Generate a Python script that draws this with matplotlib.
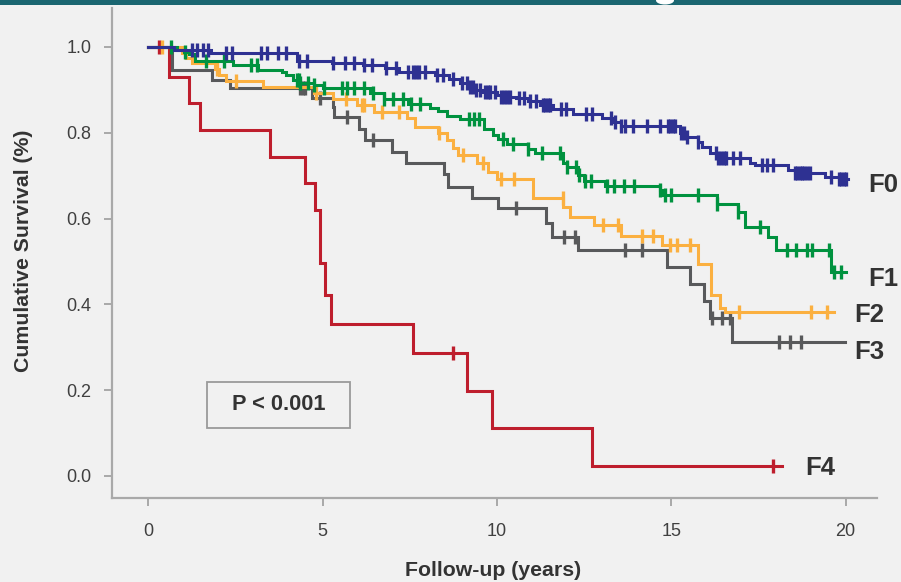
import numpy as np
import matplotlib
matplotlib.use("Agg")
import matplotlib.pyplot as plt
from matplotlib.patches import Rectangle, Ellipse

plt.rcParams['font.family'] = ['Liberation Sans', 'DejaVu Sans']

# ---------------- data ----------------
groups = ["F0", "F1", "F2", "F3", "F4"]

f0_times = [0.75, 1.80, 4.26, 5.26, 6.17, 6.79, 7.20, 8.22, 8.62, 8.94, 9.18, 9.37, 9.61, 9.99,
            10.13, 10.56, 10.90, 11.23, 11.61, 12.19, 13.00, 13.30, 13.57, 15.24, 15.40, 15.77,
            15.87, 16.10, 16.30, 17.25, 17.39, 18.35, 18.54, 19.40, 19.81]
f0_surv = [0.993, 0.985, 0.968, 0.963, 0.957, 0.950, 0.942, 0.934, 0.925, 0.915, 0.907, 0.900,
           0.896, 0.888, 0.884, 0.880, 0.873, 0.865, 0.855, 0.843, 0.834, 0.826, 0.816, 0.800,
           0.790, 0.779, 0.768, 0.752, 0.741, 0.730, 0.725, 0.713, 0.707, 0.698, 0.692]
f0_end = 20.07
f0_censor = [1.25, 1.41, 1.56, 1.72, 2.24, 2.40, 3.23, 3.40, 3.72, 3.95, 4.31, 4.55, 5.29, 5.63,
             5.90, 6.20, 6.41, 6.82, 7.11, 7.46, 7.60, 7.68, 7.75, 7.94, 8.27, 8.46, 8.75, 8.99,
             9.13, 9.22, 9.30, 9.40, 9.51, 9.66, 9.73, 9.80, 9.94, 10.13, 10.21, 10.29, 10.37,
             10.63, 10.77, 10.95, 11.12, 11.31, 11.38, 11.45, 11.52, 11.85, 11.99, 12.55, 12.74,
             13.28, 13.38, 13.57, 13.67, 13.89, 14.31, 14.69, 14.90, 14.97, 15.04, 15.10, 15.28,
             15.36, 15.44, 15.77, 16.27, 16.35, 16.43, 16.50, 16.58, 16.77, 16.96, 17.61, 17.75,
             17.92, 18.54, 18.61, 18.68, 18.75, 18.82, 18.90, 18.97, 19.59, 19.81, 19.88, 19.95,
             20.02]

f1_times = [0.82, 1.01, 1.16, 1.35, 2.43, 3.16, 3.83, 3.95, 4.16, 4.36, 4.76, 5.02, 6.36, 6.76,
            7.45, 8.08, 8.32, 8.56, 8.94, 9.62, 9.89, 10.04, 10.28, 10.90, 11.09, 11.90, 12.00,
            12.33, 12.50, 13.09, 14.67, 14.77, 16.32, 16.90, 17.10, 17.77, 17.99, 19.59]
f1_surv = [0.993, 0.988, 0.983, 0.968, 0.958, 0.947, 0.942, 0.934, 0.923, 0.916, 0.911, 0.905,
           0.893, 0.878, 0.867, 0.858, 0.850, 0.840, 0.832, 0.808, 0.796, 0.785, 0.774, 0.763,
           0.752, 0.729, 0.721, 0.702, 0.688, 0.676, 0.667, 0.655, 0.633, 0.616, 0.580, 0.556,
           0.527, 0.476]
f1_end = 20.02
f1_censor = [0.65, 1.04, 1.66, 2.16, 2.94, 3.11, 4.26, 4.31, 4.36, 4.59, 4.76, 5.05, 5.55, 5.71,
             5.90, 6.20, 6.44, 6.76, 7.03, 7.30, 7.54, 7.79, 9.20, 9.35, 9.49, 10.16, 10.45,
             10.90, 11.28, 11.82, 12.00, 12.26, 12.36, 12.52, 12.69, 13.16, 13.35, 13.64, 13.93,
             14.69, 14.81, 14.98, 15.77, 16.32, 16.91, 17.54, 18.33, 18.57, 18.90, 19.03, 19.51,
             19.68, 19.88]

f2_times = [0.96, 1.09, 1.25, 1.92, 2.02, 2.23, 3.30, 4.74, 5.31, 5.98, 6.46, 7.41, 7.65, 8.32,
            8.56, 8.73, 8.89, 9.42, 9.75, 9.99, 11.04, 11.90, 12.09, 12.78, 13.57, 14.72, 15.77,
            16.15, 16.39, 16.53]
f2_surv = [0.987, 0.974, 0.962, 0.948, 0.935, 0.921, 0.906, 0.892, 0.879, 0.865, 0.849, 0.834,
           0.814, 0.799, 0.783, 0.764, 0.748, 0.729, 0.709, 0.692, 0.647, 0.628, 0.604, 0.585,
           0.559, 0.538, 0.494, 0.422, 0.391, 0.383]
f2_end = 19.68
f2_censor = [0.39, 1.97, 2.52, 4.81, 5.67, 6.12, 6.20, 6.70, 7.19, 8.35, 9.02, 9.61, 10.11, 10.49,
             11.88, 13.03, 13.46, 14.17, 14.48, 14.96, 15.15, 15.53, 16.93, 19.00, 19.47]

f3_times = [0.68, 1.82, 2.33, 4.69, 5.29, 5.34, 6.03, 6.22, 6.98, 7.39, 8.49, 8.61, 9.27, 10.04,
            11.42, 11.59, 12.33, 14.89, 15.55, 15.94, 16.10, 16.74]
f3_surv = [0.947, 0.924, 0.904, 0.880, 0.859, 0.836, 0.810, 0.783, 0.756, 0.729, 0.704, 0.673,
           0.647, 0.624, 0.590, 0.558, 0.527, 0.488, 0.447, 0.409, 0.368, 0.312]
f3_end = 19.97
f3_censor = [4.36, 4.43, 4.50, 4.93, 5.69, 6.44, 10.56, 11.93, 12.23, 13.67, 14.15, 16.17, 16.46,
             16.68, 18.09, 18.40, 18.73]

f4_times = [0.58, 1.16, 1.49, 3.50, 4.50, 4.78, 4.93, 5.07, 5.24, 7.58, 9.13, 9.87, 12.74]
f4_surv = [0.931, 0.869, 0.807, 0.744, 0.682, 0.620, 0.496, 0.423, 0.354, 0.286, 0.199, 0.111,
           0.024]
f4_end = 18.18
f4_censor = [0.32, 8.75, 17.92]

label_pos_x = [20.66, 20.66, 20.26, 20.26, 18.83]
label_pos_y = [0.678, 0.459, 0.375, 0.289, 0.019]

x_ticks = [0, 5, 10, 15, 20]
y_ticks = [0.0, 0.2, 0.4, 0.6, 0.8, 1.0]
p_text = "P < 0.001"

# ---------------- styling ----------------
BG = "#f1f1f1"
colors = {"F0": "#2e3192", "F1": "#00923f", "F2": "#fbb040", "F3": "#58595b", "F4": "#be1e2d"}
TXT = "#333333"
AXC = "#a9a9a9"

W, H = 901, 582
fig = plt.figure(figsize=(W / 100, H / 100), dpi=100, facecolor=BG)
ax = fig.add_axes([112 / W, 1 - 498 / H, (877 - 112) / W, (498 - 8) / H], facecolor=BG)

series = {
    "F0": (f0_times, f0_surv, f0_end, f0_censor),
    "F1": (f1_times, f1_surv, f1_end, f1_censor),
    "F2": (f2_times, f2_surv, f2_end, f2_censor),
    "F3": (f3_times, f3_surv, f3_end, f3_censor),
    "F4": (f4_times, f4_surv, f4_end, f4_censor),
}

draw_order = ["F4", "F3", "F2", "F1", "F0"]
for z, g in enumerate(draw_order):
    times, surv, end, cens = series[g]
    t = np.array([0.0] + list(times) + [end])
    s = np.array([1.0] + list(surv) + [surv[-1]])
    ax.step(t, s, where="post", color=colors[g], lw=2.2, zorder=3 + z,
            solid_joinstyle="miter")
    ct = np.array(cens)
    idx = np.searchsorted(t, ct, side="right") - 1
    cs = s[np.clip(idx, 0, len(s) - 1)]
    ax.plot(ct, cs, linestyle="none", marker="|", markersize=9.5, markeredgewidth=2.4,
            color=colors[g], zorder=3 + z)

for g, lx, ly in zip(groups, label_pos_x, label_pos_y):
    ax.text(lx, ly, g, fontsize=18.5, fontweight="bold", color=TXT, ha="left", va="center",
            clip_on=False)

ax.set_xlim(-1.041, 20.90)
ax.set_ylim(-0.0513, 1.0909)
ax.set_xticks(x_ticks)
ax.set_xticklabels([str(v) for v in x_ticks])
ax.set_yticks(y_ticks)
ax.set_yticklabels([f"{v:.1f}" for v in y_ticks])
for sp in ["top", "right"]:
    ax.spines[sp].set_visible(False)
for sp in ["left", "bottom"]:
    ax.spines[sp].set_color(AXC)
    ax.spines[sp].set_linewidth(1.6)
ax.tick_params(axis="both", colors=AXC, width=1.4, length=6, labelsize=13,
               labelcolor="#404040")
ax.tick_params(axis="y", pad=9)
ax.tick_params(axis="x", pad=12)

# p-value box
ax.add_patch(Rectangle((0.1242, 0.1429), 0.1869, 0.0938, transform=ax.transAxes,
                       fill=False, edgecolor="#9a9a9a", lw=1.3, zorder=2))
ax.text(0.2176, 0.1898, p_text, transform=ax.transAxes, fontsize=15.7, fontweight="bold",
        color=TXT, ha="center", va="center")

# axis titles
fig.text(24 / W, 1 - 251 / H, "Cumulative Survival (%)", rotation=90, fontsize=15.3,
         fontweight="bold", color=TXT, ha="center", va="center")
fig.text(493 / W, 1 - 571 / H, "Follow-up (years)", fontsize=15.3, fontweight="bold",
         color=TXT, ha="center", va="center")

# teal header strip cut off at the top
fig.patches.append(Rectangle((0, 1 - 4.5 / H), 1, 4.5 / H, transform=fig.transFigure,
                             facecolor="#1b6671", edgecolor="none", zorder=0))
fig.patches.append(Ellipse((665 / W, 1 - 0.5 / H), 18 / W, 8 / H, transform=fig.transFigure,
                           facecolor="white", edgecolor="none", zorder=1))

fig.savefig("out.png", dpi=100, facecolor=BG)
